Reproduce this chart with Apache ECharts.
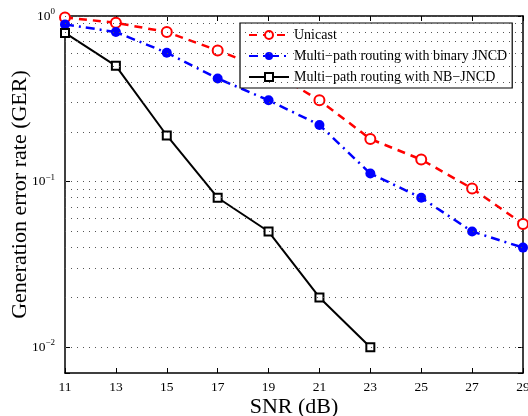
<!DOCTYPE html>
<html>
<head>
<meta charset="utf-8">
<script src="https://cdn.jsdelivr.net/npm/echarts@6/dist/echarts.min.js"></script>
<style>
  html, body { margin: 0; padding: 0; background: #fff; }
  #chart { width: 528px; height: 416px; }
</style>
</head>
<body>
<div id="chart"></div>
<script>
  // SNR (dB)
  const snr = [11, 13, 15, 17, 19, 21, 23, 25, 27, 29];
  const snrNb = [11, 13, 15, 17, 19, 21, 23];
  // generation error rate
  const unicast = [0.98, 0.91, 0.80, 0.62, 0.47, 0.31, 0.181, 0.136, 0.091, 0.0555];
  const binaryJncd = [0.89, 0.80, 0.60, 0.42, 0.31, 0.22, 0.112, 0.080, 0.050, 0.040];
  const nbJncd = [0.79, 0.50, 0.19, 0.08, 0.050, 0.020, 0.010];
  // dotted grid rows on the log axis
  const gridRows = [0.007, 0.008, 0.009, 0.01, 0.02, 0.03, 0.04, 0.05, 0.06, 0.07, 0.08, 0.09,
    0.1, 0.2, 0.3, 0.4, 0.5, 0.6, 0.7, 0.8, 0.9, 1];

  const serif = '"Liberation Serif", "DejaVu Serif", serif';
  const pair = (xs, ys) => xs.map((x, i) => [x, ys[i]]);

  const myChart = echarts.init(document.getElementById('chart'));

  const axisLine = { show: true, lineStyle: { color: '#000', width: 1.5 } };
  const yTicks = function (v) {
    const e = Math.log10(v);
    if (Math.abs(e - Math.round(e)) > 1e-6) return '';
    const n = Math.round(e);
    return '10{s|' + (n < 0 ? '\u2212' + (-n) : n) + '}';
  };

  myChart.setOption({
    animation: false,
    grid: { left: 65, right: 5, top: 16, bottom: 43, outerBoundsMode: 'none', containLabel: false },
    legend: {
      left: 240,
      top: 23,
      orient: 'vertical',
      backgroundColor: '#fff',
      borderColor: '#000',
      borderWidth: 1.2,
      borderRadius: 0,
      padding: [5, 5, 4, 8],
      itemGap: 7,
      itemWidth: 40,
      itemHeight: 10,
      textStyle: { fontFamily: serif, fontSize: 14, color: '#000' },
      data: ['Unicast', 'Multi\u2212path routing with binary JNCD', 'Multi\u2212path routing with NB\u2212JNCD']
    },
    xAxis: [{
      type: 'value',
      min: 11,
      max: 29,
      interval: 2,
      name: 'SNR (dB)',
      nameLocation: 'middle',
      nameGap: 23,
      nameMoveOverlap: false,
      nameTextStyle: { fontFamily: serif, fontSize: 22, color: '#000' },
      axisLine: axisLine,
      axisTick: { inside: true, length: 5, lineStyle: { color: '#000' } },
      axisLabel: { fontFamily: serif, fontSize: 13.5, color: '#000', margin: 7 },
      splitLine: { show: false }
    }, {
      type: 'value',
      position: 'top',
      min: 11,
      max: 29,
      interval: 2,
      axisLine: axisLine,
      axisTick: { inside: true, length: 5, lineStyle: { color: '#000' } },
      axisLabel: { show: false },
      splitLine: { show: false }
    }],
    yAxis: [{
      type: 'log',
      logBase: 10,
      min: 0.007,
      max: 1,
      name: 'Generation error rate (GER)',
      nameLocation: 'middle',
      nameGap: 34,
      nameMoveOverlap: false,
      nameTextStyle: { fontFamily: serif, fontSize: 22, color: '#000' },
      axisLine: axisLine,
      axisTick: { inside: true, length: 5, lineStyle: { color: '#000' } },
      axisLabel: {
        formatter: yTicks,
        fontFamily: serif,
        fontSize: 13.5,
        color: '#000',
        margin: 10,
        rich: { s: { fontFamily: serif, fontSize: 9, color: '#000', padding: [0, 0, 9, 0] } }
      },
      splitLine: { show: false }
    }, {
      type: 'log',
      logBase: 10,
      min: 0.007,
      max: 1,
      position: 'right',
      axisLine: axisLine,
      axisTick: { inside: true, length: 5, lineStyle: { color: '#000' } },
      axisLabel: { show: false },
      splitLine: { show: false }
    }],
    series: [{
      name: 'grid',
      type: 'line',
      data: [],
      silent: true,
      markLine: {
        silent: true,
        symbol: 'none',
        label: { show: false },
        lineStyle: { type: [1, 5], color: '#555', width: 1 },
        data: gridRows.map(v => ({ yAxis: v }))
      }
    }, {
      name: 'Unicast',
      type: 'line',
      data: pair(snr, unicast),
      symbol: 'emptyCircle',
      symbolSize: 10,
      lineStyle: { color: '#ff0000', width: 2.5, type: [8, 6] },
      itemStyle: { color: '#ff0000', borderWidth: 2.5 },
      z: 3
    }, {
      name: 'Multi\u2212path routing with binary JNCD',
      type: 'line',
      data: pair(snr, binaryJncd),
      symbol: 'circle',
      symbolSize: 10,
      lineStyle: { color: '#0000ff', width: 2.5, type: [9, 5, 2, 5] },
      itemStyle: { color: '#0000ff' },
      z: 3
    }, {
      name: 'Multi\u2212path routing with NB\u2212JNCD',
      type: 'line',
      data: pair(snrNb, nbJncd),
      symbol: 'emptyRect',
      symbolSize: 8,
      lineStyle: { color: '#000', width: 2 },
      itemStyle: { color: '#000', borderWidth: 2.5 },
      z: 3
    }]
  });
</script>
</body>
</html>
